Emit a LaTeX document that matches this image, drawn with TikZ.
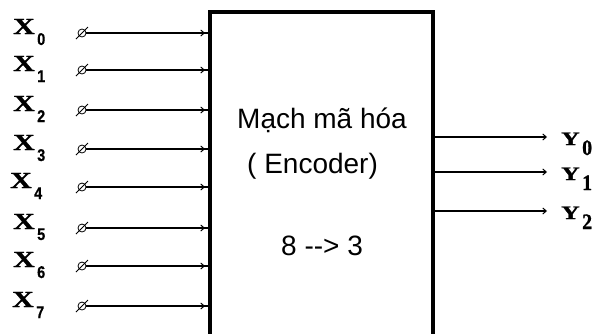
\documentclass[tikz,border=0pt]{standalone}
\usepackage{fontspec}
\usepackage{graphicx}
\newfontfamily\arialf{Liberation Sans}
\newfontfamily\arialbf{Liberation Sans Bold}[FakeBold=0.6]
\newfontfamily\timesbf{Liberation Serif Bold}[FakeBold=1]
\usetikzlibrary{arrows.meta,decorations.markings}
\tikzset{
  wire/.style={line width=1.1pt},
  inarrow/.style={wire, postaction={decorate}, decoration={markings,
      mark=at position -5pt with {\arrow{Straight Barb[length=3.5pt,width=6pt,line width=1pt]}}}},
  outarrow/.style={wire, -{Straight Barb[length=3.5pt,width=6pt,line width=1pt]}},
  term/.style={circle, draw, line width=0.8pt, minimum size=8pt, inner sep=0pt, outer sep=0pt},
  xlab/.style={anchor=base west, inner sep=0pt, font=\fontsize{23}{25}\selectfont\timesbf},
  xsub/.style={anchor=base west, inner sep=0pt, font=\fontsize{17}{19}\selectfont\arialbf},
  ylab/.style={anchor=base west, inner sep=0pt, font=\fontsize{19}{21}\selectfont\timesbf},
  ysub/.style={anchor=base west, inner sep=0pt, font=\fontsize{22}{24}\selectfont\timesbf},
  boxtext/.style={anchor=base west, inner sep=0pt, font=\fontsize{28}{30}\selectfont\arialf},
}
\begin{document}
\begin{tikzpicture}[x=1pt,y=-1pt]
\useasboundingbox[fill=white] (0,0) rectangle (601,333);
\clip (0,0) rectangle (601,333);
% encoder box (bottom runs off the picture)
\node[draw, line width=3.5pt, minimum width=223pt, minimum height=340pt,
      anchor=north west, inner sep=0pt, outer sep=0pt] (box) at (210,12) {};
\node[boxtext] (t1) at (237,128) {Mạch mã hóa};
\node[boxtext] (t2) at (247,173) {( Encoder)};
\node[boxtext] (t3) at (281,255) {8 -\kern0pt-\kern0pt> 3};
% inputs
\foreach \i/\yy/\xx in {0/33/13,1/70/13,2/110/13,3/149/13,4/187/10,5/228/13,6/266/13,7/306/12}{
  \node[xlab] (x\i) at (\xx,\yy+1) {\scalebox{1.3}[1]{X}};
  \node[xsub] (xs\i) at (\xx+24,\yy+12) {\scalebox{0.85}[1]{\i}};
  \node[term] (c\i) at (82,\yy) {};
  \draw[line width=0.8pt] ([shift={(-6pt,-6pt)}]c\i.center) -- ([shift={(6pt,6pt)}]c\i.center);
  \draw[inarrow] (c\i.east) -- (c\i.east -| box.west);
}
% outputs
\foreach \i/\yy in {0/137,1/172,2/211}{
  \coordinate (o\i) at (547,\yy);
  \draw[outarrow] (o\i -| box.east) -- (o\i);
  \node[ylab] (y\i) at (561,\yy+8) {\scalebox{1.35}[1]{Y}};
  \node[ysub] (ys\i) at (582,\yy+18) {\scalebox{0.9}[1]{\i}};
}
\end{tikzpicture}
\end{document}
